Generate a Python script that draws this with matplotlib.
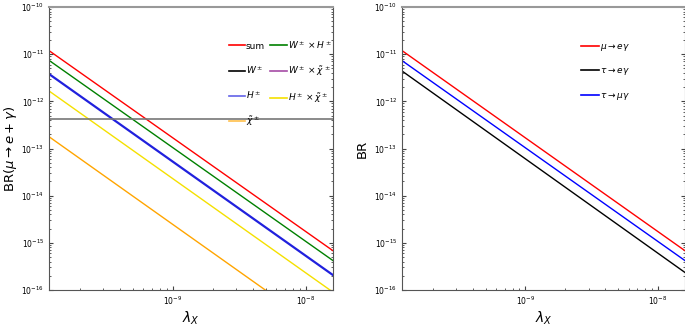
import matplotlib
matplotlib.use("Agg")
import matplotlib.pyplot as plt
from matplotlib.lines import Line2D
from matplotlib.ticker import NullFormatter

# ── data (lines are straight in log-log) ──
lam = [1.17e-10, 1.6e-8]
xlim = (1.17e-10, 1.6e-8)

br_sum = [1.19e-11, 6.8e-16]
br_wh = [7.4e-12, 4.2e-16]
br_h = [3.8e-12, 2.07e-16]
br_hchi = [1.66e-12, 9.0e-17]
br_chi = [1.78e-13, 9.6e-18]
meg_bound = 4.2e-13

br_mueg = [1.19e-11, 6.8e-16]
br_tamug = [7.3e-12, 4.2e-16]
br_taeg = [4.4e-12, 2.35e-16]

left_labels = ["sum", r"$W^\pm$", r"$H^\pm$", r"$\tilde\chi^\pm$",
               r"$W^\pm\times H^\pm$", r"$W^\pm\times\tilde\chi^\pm$",
               r"$H^\pm\times\tilde\chi^\pm$"]
left_colors = ["red", "black", "#2020dd", "orange", "green", "purple", "#f5e000"]
right_labels = [r"$\mu\to e\gamma$", r"$\tau\to e\gamma$", r"$\tau\to\mu\gamma$"]
right_colors = ["red", "black", "blue"]

fig = plt.figure(figsize=(6.85, 3.27), dpi=100)
axL = fig.add_axes([49/685, 1-290/327, 284/685, 283/327])
axR = fig.add_axes([402/685, 1-290/327, 283/685, 283/327])

def style(ax):
    ax.set_xscale("log"); ax.set_yscale("log")
    ax.set_xlim(*xlim); ax.set_ylim(1e-16, 1e-10)
    ax.xaxis.set_minor_formatter(NullFormatter())
    ax.yaxis.set_minor_formatter(NullFormatter())
    ax.tick_params(which="both", direction="in", top=False, right=True,
                   labelsize=5.5, colors="#444444", labelcolor="black")
    ax.tick_params(which="major", length=3)
    ax.tick_params(which="minor", length=1.5)
    for s in ax.spines.values():
        s.set_color("#555555"); s.set_linewidth(0.8)
    ax.spines["top"].set_color("#999999"); ax.spines["top"].set_linewidth(1.5)
    ax.set_xlabel(r"$\lambda_X$", fontsize=10, labelpad=2)

# left panel
style(axL)
axL.plot(lam, br_chi, color="orange", lw=1.0)
axL.plot(lam, br_hchi, color="#f5e000", lw=1.0)
axL.plot(lam, br_h, color="#2020dd", lw=1.6)
axL.plot(lam, br_wh, color="green", lw=1.0)
axL.plot(lam, br_sum, color="red", lw=1.0)
axL.axhline(meg_bound, color="#777777", lw=1.2)
axL.set_ylabel(r"BR($\mu\to e+\gamma$)", fontsize=9.5, labelpad=2)
handles = [Line2D([], [], color=c, lw=1.2, alpha=0.7 if c in ("#2020dd", "orange", "purple") else 1)
           for c in left_colors]
axL.legend(handles, left_labels, ncol=2, frameon=False, fontsize=6.5,
           loc="upper left", bbox_to_anchor=(0.62, 0.9), handlelength=1.8,
           handletextpad=0.1, labelspacing=1.5, columnspacing=0.6, borderaxespad=0)

# right panel
style(axR)
axR.plot(lam, br_taeg, color="black", lw=1.0)
axR.plot(lam, br_tamug, color="blue", lw=1.0)
axR.plot(lam, br_mueg, color="red", lw=1.0)
axR.set_ylabel("BR", fontsize=9.5)
handles = [Line2D([], [], color=c, lw=1.2) for c in right_colors]
axR.legend(handles, right_labels, frameon=False, fontsize=6.5,
           loc="upper left", bbox_to_anchor=(0.62, 0.89), handlelength=2.0,
           handletextpad=0.1, labelspacing=1.5, borderaxespad=0)

fig.savefig("out.png", dpi=100)
